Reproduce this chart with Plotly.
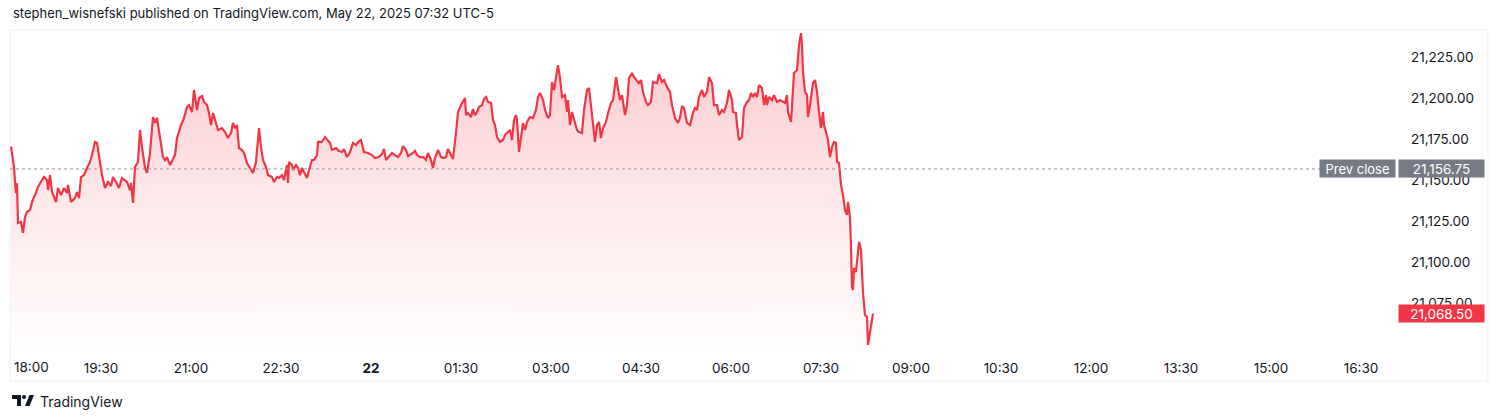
import plotly.graph_objects as go
import pandas as pd

# ---------------- data ----------------
session_start = "2025-05-21 18:00"
minutes = [
    0, 3, 4, 5, 6, 7, 10, 12, 14, 16, 19, 21, 24, 27, 31, 33, 36, 37, 39, 41,
    45, 47, 50, 53, 56, 57, 60, 64, 66, 68, 70, 73, 76, 79, 81, 84, 86, 88, 91, 94,
    97, 100, 102, 105, 108, 111, 116, 119, 120, 122, 124, 127, 129, 131, 134, 136, 139, 142, 144, 146,
    149, 152, 154, 156, 159, 162, 164, 166, 170, 173, 176, 178, 181, 183, 186, 188, 191, 193, 196, 198,
    200, 202, 205, 207, 211, 214, 217, 220, 222, 224, 226, 228, 231, 233, 236, 239, 242, 245, 248, 250,
    252, 255, 257, 261, 263, 266, 268, 271, 273, 276, 277, 278, 281, 282, 285, 287, 289, 291, 294, 296,
    298, 301, 303, 306, 307, 311, 314, 317, 319, 321, 325, 328, 331, 333, 336, 339, 342, 345, 347, 350,
    351, 353, 357, 361, 364, 368, 371, 373, 375, 378, 381, 384, 387, 390, 392, 395, 397, 402, 404, 406,
    409, 412, 415, 417, 420, 422, 424, 427, 430, 432, 435, 437, 440, 442, 445, 447, 450, 452, 454, 455,
    457, 460, 462, 464, 466, 468, 471, 473, 475, 477, 480, 482, 484, 486, 489, 492, 494, 496, 499, 501,
    503, 505, 506, 508, 510, 512, 514, 516, 519, 522, 525, 527, 529, 532, 534, 537, 539, 541, 543, 546,
    547, 549, 551, 554, 556, 557, 559, 561, 563, 566, 568, 571, 573, 576, 578, 580, 582, 584, 586, 588,
    590, 592, 595, 597, 600, 602, 605, 607, 609, 611, 614, 616, 618, 621, 623, 626, 628, 630, 632, 635,
    637, 640, 642, 646, 648, 651, 653, 656, 659, 661, 664, 667, 669, 671, 673, 676, 679, 682, 684, 686,
    688, 691, 693, 696, 698, 701, 703, 706, 708, 711, 713, 716, 718, 721, 722, 725, 726, 728, 731, 733,
    736, 738, 740, 742, 744, 746, 748, 751, 753, 755, 756, 758, 761, 763, 766, 769, 772, 774, 776, 777,
    780, 782, 783, 786, 788, 790, 791, 792, 794, 796, 797, 799, 802, 804, 806, 808, 810, 812, 813, 815,
    817, 819, 821, 823, 825, 826, 828, 830, 832, 834, 836, 837, 839, 840, 841, 842, 843, 845, 846, 848,
    850, 851, 852, 854, 856, 857, 859, 861, 862,
]
prices = [
    21170.3, 21158.0, 21149.0, 21142.0, 21148.0, 21123.8, 21124.4, 21117.7, 21127.4, 21130.5,
    21131.7, 21136.6, 21140.8, 21145.7, 21150.0, 21151.8, 21150.0, 21143.9, 21153.0, 21142.7,
    21136.6, 21145.1, 21140.8, 21145.1, 21142.1, 21147.0, 21136.6, 21139.0, 21142.7, 21139.0,
    21151.8, 21153.0, 21157.3, 21161.0, 21165.2, 21173.2, 21172.6, 21164.0, 21153.0, 21145.1,
    21148.8, 21146.3, 21151.8, 21148.8, 21145.1, 21151.2, 21148.8, 21143.9, 21148.2, 21136.0,
    21157.9, 21161.0, 21180.5, 21170.1, 21157.3, 21154.3, 21166.5, 21188.4, 21184.8, 21187.8,
    21174.4, 21164.0, 21162.2, 21164.0, 21159.1, 21163.4, 21165.2, 21175.6, 21183.5, 21187.8,
    21194.5, 21195.7, 21191.5, 21204.9, 21192.7, 21200.0, 21201.2, 21197.6, 21195.7, 21190.9,
    21183.5, 21190.9, 21185.4, 21180.5, 21181.7, 21179.3, 21175.6, 21178.7, 21184.8, 21181.7,
    21183.5, 21169.5, 21168.3, 21166.5, 21160.4, 21157.3, 21154.3, 21161.0, 21181.7, 21170.1,
    21162.2, 21157.9, 21153.0, 21151.8, 21148.8, 21151.8, 21151.2, 21153.0, 21150.0, 21159.1,
    21148.2, 21161.0, 21159.1, 21156.1, 21159.1, 21157.3, 21153.0, 21157.3, 21153.0, 21151.2,
    21156.1, 21162.2, 21162.2, 21165.2, 21173.2, 21173.2, 21176.2, 21174.4, 21172.6, 21168.3,
    21169.5, 21167.7, 21167.1, 21168.9, 21164.0, 21167.1, 21172.6, 21171.3, 21173.2, 21174.4,
    21171.3, 21167.1, 21166.5, 21165.2, 21163.4, 21164.0, 21165.8, 21168.9, 21162.2, 21164.6,
    21166.5, 21165.2, 21164.0, 21166.5, 21170.7, 21168.3, 21164.6, 21166.5, 21167.7, 21165.2,
    21164.0, 21164.0, 21162.2, 21166.5, 21162.2, 21157.3, 21163.4, 21168.3, 21164.0, 21163.4,
    21164.0, 21168.9, 21165.2, 21162.8, 21178.7, 21191.5, 21195.7, 21197.6, 21200.0, 21189.6,
    21190.9, 21188.4, 21193.3, 21189.6, 21191.5, 21194.5, 21195.7, 21199.4, 21200.6, 21197.6,
    21197.0, 21186.6, 21183.5, 21176.2, 21173.2, 21174.4, 21177.4, 21178.7, 21180.5, 21174.4,
    21186.6, 21189.6, 21186.6, 21167.1, 21176.2, 21184.8, 21180.5, 21185.4, 21188.4, 21187.8,
    21192.7, 21200.6, 21203.0, 21198.8, 21192.7, 21187.8, 21189.6, 21209.8, 21204.9, 21218.9,
    21220.1, 21212.2, 21200.6, 21201.8, 21191.5, 21198.8, 21183.5, 21191.5, 21186.6, 21180.5,
    21179.3, 21178.7, 21192.7, 21204.9, 21206.1, 21195.7, 21185.4, 21173.2, 21183.5, 21185.4,
    21175.6, 21181.7, 21185.4, 21190.9, 21197.0, 21198.8, 21212.8, 21204.9, 21198.8, 21201.8,
    21189.6, 21195.7, 21212.2, 21215.2, 21212.8, 21210.4, 21209.1, 21211.0, 21203.7, 21197.6,
    21195.7, 21197.6, 21209.8, 21209.1, 21214.6, 21209.8, 21211.0, 21206.7, 21203.7, 21195.7,
    21187.8, 21184.8, 21187.8, 21195.1, 21193.9, 21184.8, 21183.5, 21190.9, 21193.9, 21192.7,
    21200.6, 21204.9, 21200.6, 21203.7, 21212.8, 21209.1, 21195.7, 21195.7, 21189.6, 21192.7,
    21191.5, 21197.0, 21204.9, 21198.8, 21191.5, 21190.9, 21183.5, 21174.4, 21176.2, 21193.9,
    21197.6, 21198.8, 21203.0, 21200.6, 21203.0, 21200.6, 21207.9, 21206.1, 21195.7, 21201.8,
    21195.7, 21200.6, 21198.8, 21201.8, 21197.6, 21198.8, 21197.6, 21197.0, 21201.8, 21191.5,
    21185.4, 21203.7, 21215.2, 21217.1, 21232.3, 21239.6, 21232.3, 21215.9, 21203.7, 21201.8,
    21188.4, 21195.7, 21209.1, 21211.0, 21203.7, 21191.5, 21181.7, 21191.5, 21183.5, 21179.3,
    21174.4, 21164.0, 21170.1, 21173.2, 21172.6, 21161.0, 21160.4, 21147.0, 21140.8, 21131.7,
    21128.7, 21136.6, 21127.4, 21109.1, 21084.7, 21082.9, 21096.3, 21093.9, 21100.0, 21112.2,
    21107.3, 21090.8, 21081.1, 21067.7, 21066.4, 21049.4, 21057.3, 21062.8, 21068.5,
]

tick_times = [
    "2025-05-21 19:30", "2025-05-21 21:00", "2025-05-21 22:30", "2025-05-22 00:00",
    "2025-05-22 01:30", "2025-05-22 03:00", "2025-05-22 04:30", "2025-05-22 06:00",
    "2025-05-22 07:30", "2025-05-22 09:00", "2025-05-22 10:30", "2025-05-22 12:00",
    "2025-05-22 13:30", "2025-05-22 15:00", "2025-05-22 16:30",
]
tick_labels = [
    "19:30", "21:00", "22:30", "<b>22</b>", "01:30", "03:00", "04:30", "06:00",
    "07:30", "09:00", "10:30", "12:00", "13:30", "15:00", "16:30",
]
first_label = "18:00"
price_ticks = [21075, 21100, 21125, 21150, 21175, 21200, 21225]
prev_close = 21156.75
last_price = 21068.50
x_range = ["2025-05-21 17:59", "2025-05-22 17:06"]
y_range = [21046.3, 21241.5]

title_text = "stephen_wisnefski published on TradingView.com, May 22, 2025 07:32 UTC-5"
footer_text = "TradingView"

# ---------------- styling ----------------
RED = "#F23645"
GREY_TAG = "#787B86"
TEXT = "#131722"
FONT = "Inter, Roboto, 'Liberation Sans', sans-serif"

start = pd.Timestamp(session_start)
times = [start + pd.Timedelta(minutes=m) for m in minutes]

fig = go.Figure()
fig.add_trace(go.Scatter(
    x=times, y=prices, mode="lines",
    line=dict(color=RED, width=2.2),
    fill="tozeroy",
    fillgradient=dict(
        type="vertical",
        colorscale=[[0, "rgba(242,54,69,0.01)"], [0.5, "rgba(242,54,69,0.12)"], [1, "rgba(242,54,69,0.28)"]],
        start=y_range[0], stop=y_range[1],
    ),
    hoverinfo="skip", showlegend=False,
))

fig.update_layout(
    width=1500, height=420,
    margin=dict(l=10, r=103, t=30, b=70),
    paper_bgcolor="white", plot_bgcolor="white",
    font=dict(family=FONT, size=13, color=TEXT),
    showlegend=False,
    xaxis=dict(
        type="date", range=x_range,
        tickvals=tick_times, ticktext=tick_labels,
        showgrid=False, zeroline=False, showline=False, ticks="",
        tickfont=dict(size=13.5, color=TEXT), ticklabelstandoff=8,
        fixedrange=True,
    ),
    yaxis=dict(
        side="right", range=y_range,
        tickvals=price_ticks, tickformat=",.2f",
        showgrid=False, zeroline=False, showline=False, ticks="",
        tickfont=dict(size=13.5, color=TEXT), ticklabelstandoff=13,
        fixedrange=True,
    ),
)

# previous close dotted line
fig.add_shape(type="line", xref="paper", yref="y", x0=0, x1=0.9445,
              y0=prev_close, y1=prev_close,
              line=dict(color="#9598A1", width=1, dash="dot"))

# chart frame
fig.add_shape(type="rect", xref="paper", yref="paper",
              x0=0, x1=1.0656, y0=-0.0969, y1=1.0,
              line=dict(color="#EEF0F5", width=1), layer="below")

# tags on the price scale
fig.add_annotation(xref="paper", yref="y", x=1, y=prev_close, xanchor="right", xshift=-1,
                   text="Prev close", showarrow=False, bgcolor=GREY_TAG,
                   font=dict(color="white", size=13), width=73, height=15, borderpad=1)
fig.add_annotation(xref="paper", yref="y", x=1, y=prev_close, xanchor="left", xshift=1,
                   text=f"{prev_close:,.2f}", showarrow=False, bgcolor=GREY_TAG,
                   font=dict(color="white", size=13.5), width=83, height=15, borderpad=1)
fig.add_annotation(xref="paper", yref="y", x=1, y=last_price, xanchor="left", xshift=1,
                   text=f"{last_price:,.2f}", showarrow=False, bgcolor=RED,
                   font=dict(color="white", size=13.5), width=83, height=15, borderpad=1)

# first time label (shifted inside like TradingView does)
fig.add_annotation(xref="x", yref="paper", x=times[0], y=0, yshift=-17,
                   xanchor="left", yanchor="middle", xshift=1,
                   text=first_label, showarrow=False, font=dict(size=13.5, color=TEXT))

# header and footer
fig.add_annotation(xref="paper", yref="paper", x=0, y=1, xshift=1, yshift=17,
                   xanchor="left", yanchor="middle", text=title_text, showarrow=False,
                   font=dict(size=13, color=TEXT))
fig.add_annotation(xref="paper", yref="paper", x=0, y=0, xshift=28, yshift=-51,
                   xanchor="left", yanchor="middle", text=footer_text, showarrow=False,
                   font=dict(size=14, color=TEXT))

# TradingView logo glyph (pixel-anchored below the plot)
logo = dict(xref="paper", yref="paper", xsizemode="pixel", ysizemode="pixel",
            xanchor=0, yanchor=0, line=dict(width=0), fillcolor=TEXT)
fig.add_shape(type="path", path="M 2,-45 L 11,-45 L 11,-56 L 7,-56 L 7,-49 L 2,-49 Z", **logo)
fig.add_shape(type="circle", x0=12, x1=16, y0=-45, y1=-49, **logo)
fig.add_shape(type="path", path="M 15,-56 L 19.5,-56 L 24,-45 L 19.5,-45 Z", **logo)

fig.write_html("out.html", config={"displayModeBar": False},
               post_script="document.body.style.margin='0';document.body.style.overflow='hidden';")
